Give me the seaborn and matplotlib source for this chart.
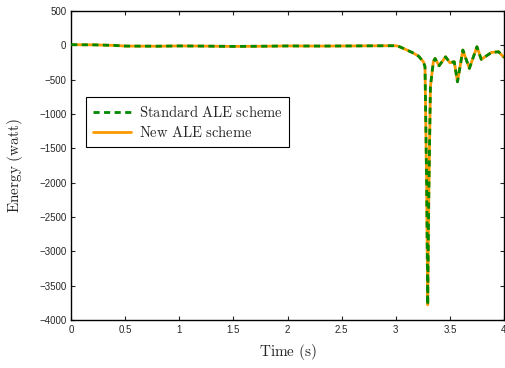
import numpy as np
import pandas as pd
import matplotlib
matplotlib.use("Agg")
import matplotlib.pyplot as plt
import seaborn as sns

# Energy curves
time_s = [0.0, 0.2, 0.4, 0.5, 0.8, 1.0, 1.2, 1.5, 1.8, 2.0, 2.3, 2.6, 2.8, 3.0, 3.02,
          3.07, 3.15, 3.21, 3.255, 3.27, 3.285, 3.295, 3.305, 3.32, 3.347, 3.363,
          3.40, 3.46, 3.50, 3.54, 3.57, 3.62, 3.68, 3.75, 3.79, 3.885, 3.95, 4.0]
energy_std = [10, 8, 0, -10, -12, -8, -10, -15, -12, -8, -10, -8, -6, -5, -10,
              -44, -102, -156, -238, -311, -2000, -3777, -2200, -600, -238, -190,
              -297, -166, -253, -238, -530, -68, -335, -20, -204, -102, -93, -175]
energy_new = list(energy_std)

df = pd.DataFrame({
    "t": time_s * 2,
    "E": energy_std + energy_new,
    "scheme": ["Standard ALE scheme"] * len(time_s) + ["New ALE scheme"] * len(time_s),
})

sns.set_style("ticks")
plt.rcParams["font.family"] = ["Liberation Sans", "DejaVu Sans"]
plt.rcParams["mathtext.fontset"] = "cm"

fig, ax = plt.subplots(figsize=(5.05, 3.68), dpi=100)
sns.lineplot(data=df[df.scheme == "New ALE scheme"], x="t", y="E", ax=ax,
             color="#ff9900", linewidth=2.0, label="New ALE scheme", zorder=2)
sns.lineplot(data=df[df.scheme == "Standard ALE scheme"], x="t", y="E", ax=ax,
             color="#008800", linewidth=2.0, linestyle=(0, (2.2, 1.6)),
             label="Standard ALE scheme", zorder=3)

ax.set_xlim(0, 4)
ax.set_ylim(-4000, 500)
ax.set_xticks([0, 0.5, 1, 1.5, 2, 2.5, 3, 3.5, 4])
ax.set_xticklabels(["0", "0.5", "1", "1.5", "2", "2.5", "3", "3.5", "4"])
ax.set_yticks(range(-4000, 501, 500))
ax.tick_params(direction="in", length=3, labelsize=7, top=True, right=True, width=0.8)
for s in ax.spines.values():
    s.set_linewidth(1.0)
    s.set_color("black")

ax.set_xlabel(r"$\mathrm{Time\ (s)}$", fontsize=11, labelpad=5)
ax.set_ylabel(r"$\mathrm{Energy\ (watt)}$", fontsize=11, labelpad=10)

h, l = ax.get_legend_handles_labels()
leg = ax.legend(h[::-1], l[::-1], loc="upper left", bbox_to_anchor=(0.035, 0.722),
                borderaxespad=0, fancybox=False, edgecolor="black", framealpha=1,
                prop={"size": 10.5}, borderpad=0.48, handlelength=2.6,
                handletextpad=0.5, labelspacing=0.35)
leg.get_frame().set_linewidth(0.8)
for txt in leg.get_texts():
    txt.set_text(r"$\mathrm{" + txt.get_text().replace(" ", r"\ ") + "}$")

plt.subplots_adjust(left=0.141, right=0.998, top=0.970, bottom=0.130)
plt.savefig("out.png", dpi=100)
